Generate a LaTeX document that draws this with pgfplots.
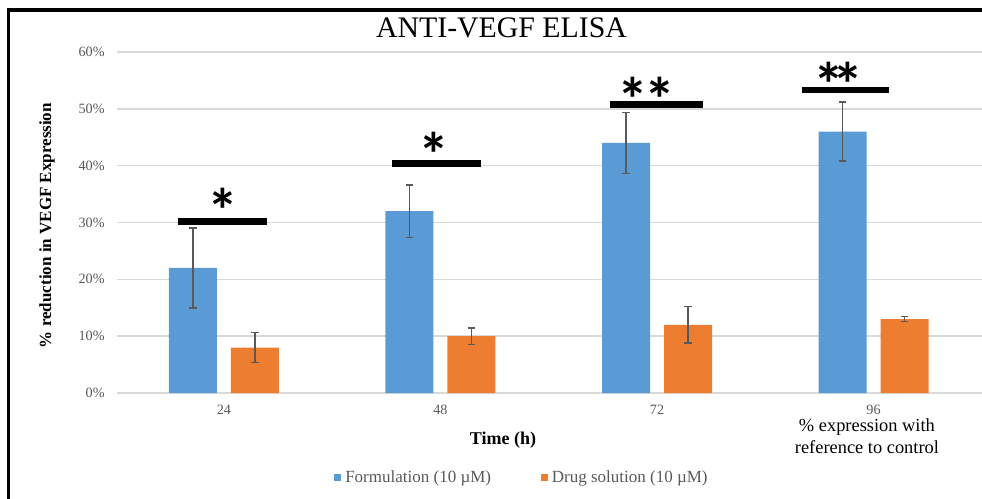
\documentclass[border=0pt]{standalone}
\usepackage{fontspec}
\setmainfont{Liberation Serif}
\newfontfamily\starfont{Carlito}
\usepackage{pgfplots}
\usepackage{pgfplotstable}
\pgfplotsset{compat=1.18}
\definecolor{fblue}{HTML}{5B9BD5}
\definecolor{dorange}{HTML}{ED7D31}
\definecolor{tickgray}{HTML}{595959}
\definecolor{gridgray}{HTML}{D9D9D9}
\definecolor{errgray}{HTML}{595959}

\pgfplotstableread{
x y e
0 22 7.0
1 32 4.6
2 44 5.4
3 46 5.2
}\formulation
\pgfplotstableread{
x y e
0 8 2.65
1 10 1.45
2 12 3.2
3 13 0.45
}\drugsol

\newcommand{\starsize}{\starfont\bfseries\fontsize{31}{31}\selectfont}

\begin{document}
\begin{tikzpicture}
\useasboundingbox (0,0) rectangle (491pt,-249.5pt);
\begin{axis}[
  at={(58.5pt,-196.5pt)}, anchor=south west,
  scale only axis, width=432.5pt, height=170.5pt,
  xmin=-0.494, xmax=3.501, ymin=0, ymax=60,
  clip=false,
  ybar=7pt, bar width=24pt,
  xtick={0,1,2,3}, xticklabels={24,48,72,96},
  ytick={0,10,20,30,40,50,60},
  yticklabels={0\%,10\%,20\%,30\%,40\%,50\%,60\%},
  ymajorgrids, grid style={gridgray, line width=0.75pt},
  axis line style={draw=none}, major tick length=0pt,
  tick label style={font=\fontsize{7.1}{8}\selectfont, text=tickgray, inner sep=0pt},
  xticklabel style={anchor=north, yshift=-6pt},
  yticklabel style={anchor=east, xshift=-6pt},
  title={ANTI-VEGF ELISA},
  title style={at={(axis description cs:0.4445,1.0079)}, anchor=base, font=\fontsize{14.9}{17}\selectfont},
  xlabel={Time (h)},
  xlabel style={at={(axis description cs:0.4462,-0.1496)}, anchor=base, font=\bfseries\fontsize{9}{11}\selectfont},
  ylabel={\% reduction in VEGF Expression},
  ylabel style={at={(axis description cs:-0.0809,0.491)}, anchor=center, font=\bfseries\fontsize{8.5}{10}\selectfont},
  legend style={at={(axis description cs:0.4694,-0.2484)}, anchor=center, draw=none, fill=none,
    legend columns=2, font=\fontsize{8.5}{10}\selectfont, text=tickgray,
    /tikz/every even column/.append style={column sep=23pt}},
  legend image code/.code={\fill[#1] (0pt,-1.7pt) rectangle (3.4pt,1.7pt);},
  error bars/error bar style={errgray, line width=0.75pt},
  error bars/error mark options={rotate=90, errgray, line width=0.75pt, mark size=1.8pt},
]
\addplot[fill=fblue, draw=none,
  error bars/.cd, y dir=both, y explicit]
  table[x=x, y=y, y error=e] {\formulation};
\addlegendentry{Formulation (10 µM)}
\addplot[fill=dorange, draw=none,
  error bars/.cd, y dir=both, y explicit]
  table[x=x, y=y, y error=e] {\drugsol};
\addlegendentry{Drug solution (10 µM)}

% significance bars
\draw[line width=3.4pt] (axis cs:-0.2125,30.2) -- (axis cs:0.197,30.2);
\draw[line width=3.4pt] (axis cs:0.777,40.4) -- (axis cs:1.186,40.4);
\draw[line width=3.4pt] (axis cs:1.783,50.8) -- (axis cs:2.212,50.8);
\draw[line width=3.4pt] (axis cs:2.670,53.3) -- (axis cs:3.072,53.3);
% stars
\node[anchor=north, inner sep=0pt, font=\starsize] at (axis cs:-0.005,36.07) {*};
\node[anchor=north, inner sep=0pt, font=\starsize] at (axis cs:0.968,45.98) {*};
\node[anchor=north, inner sep=0pt, font=\starsize] at (axis cs:1.889,55.66) {*};
\node[anchor=north, inner sep=0pt, font=\starsize] at (axis cs:2.014,55.66) {*};
\node[anchor=north, inner sep=0pt, font=\starsize] at (axis cs:2.794,58.3) {*};
\node[anchor=north, inner sep=0pt, font=\starsize] at (axis cs:2.880,58.3) {*};
% annotation
\node[anchor=base, font=\fontsize{9.2}{11}\selectfont] at (axis description cs:0.867,-0.1135) {\% expression with};
\node[anchor=base, font=\fontsize{9.2}{11}\selectfont] at (axis description cs:0.867,-0.176) {reference to control};
\end{axis}
\draw[line width=1.7pt, line join=miter] (4.35pt,-249.5pt) -- (4.35pt,-5pt) -- (491pt,-5pt);
\end{tikzpicture}
\end{document}
